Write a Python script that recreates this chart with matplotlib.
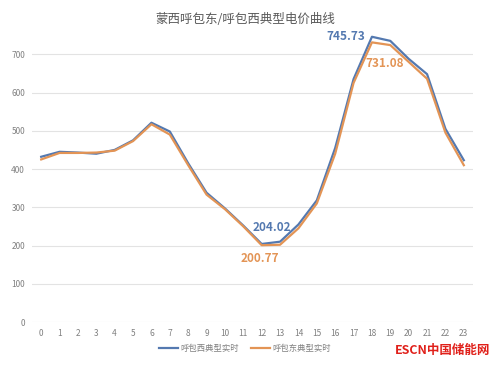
import matplotlib
matplotlib.use("Agg")
import matplotlib.pyplot as plt

plt.rcParams['font.family'] = ['Noto Sans CJK SC', 'DejaVu Sans']

hours = list(range(24))
hubaoxi = [432, 445, 443, 440, 450, 475, 521, 498, 415, 338, 297, 252, 204.02, 210,
           255, 318, 455, 635, 745.73, 735, 688, 648, 505, 423]
hubaodong = [425, 442, 442, 443, 448, 473, 517, 490, 410, 333, 295, 250, 200.77, 202,
             245, 310, 440, 625, 731.08, 724, 680, 636, 495, 410]
series_names = ["呼包西典型实时", "呼包东典型实时"]
title = "蒙西呼包东/呼包西典型电价曲线"

blue = "#5479B0"
orange = "#E39455"

fig = plt.figure(figsize=(5, 3.8), dpi=100)
ax = fig.add_axes([0.064, 0.1526, 0.882, 0.765])

ax.plot(hours, hubaoxi, color=blue, lw=1.6, label=series_names[0], clip_on=False, zorder=3)
ax.plot(hours, hubaodong, color=orange, lw=1.6, label=series_names[1], clip_on=False, zorder=4)

ax.set_xlim(-0.5, 23.5)
ax.set_ylim(0, 760)
ax.set_yticks(range(0, 701, 100))
ax.set_xticks(hours)
ax.grid(axis='y', color='#E3E3E3', lw=0.8)
ax.set_axisbelow(True)
for s in ax.spines.values():
    s.set_visible(False)
ax.tick_params(length=0, labelsize=6, colors='#808080', pad=5)

i_max = hubaoxi.index(max(hubaoxi))
i_min = hubaoxi.index(min(hubaoxi))
ax.annotate(f"{hubaoxi[i_max]:.2f}", xy=(i_max, hubaoxi[i_max]), xytext=(-5, 0),
            textcoords='offset points', ha='right', va='center', color=blue,
            fontsize=8.5, fontweight='bold')
ax.annotate(f"{hubaodong[i_max]:.2f}", xy=(i_max, hubaodong[i_max]), xytext=(9, -15),
            textcoords='offset points', ha='center', va='center', color=orange,
            fontsize=8.5, fontweight='bold')
ax.annotate(f"{hubaoxi[i_min]:.2f}", xy=(i_min, hubaoxi[i_min]), xytext=(7, 12),
            textcoords='offset points', ha='center', va='center', color=blue,
            fontsize=8.5, fontweight='bold')
ax.annotate(f"{hubaodong[i_min]:.2f}", xy=(i_min, hubaodong[i_min]), xytext=(-1, -9.5),
            textcoords='offset points', ha='center', va='center', color=orange,
            fontsize=8.5, fontweight='bold')

fig.text(0.49, 0.95, title, ha='center', va='center', fontsize=9, color='#595959')

leg = fig.legend(loc='center', bbox_to_anchor=(0.49, 0.084), ncol=2, frameon=False,
                 fontsize=6, handlelength=2.2, handletextpad=0.3, columnspacing=1.5)
for t in leg.get_texts():
    t.set_color('#808080')

fig.text(0.98, 0.077, "ESCN中国储能网", ha='right', va='center', fontsize=9,
         color='#E0201A', fontweight='bold')

fig.savefig("out.png", dpi=100, facecolor='white')
